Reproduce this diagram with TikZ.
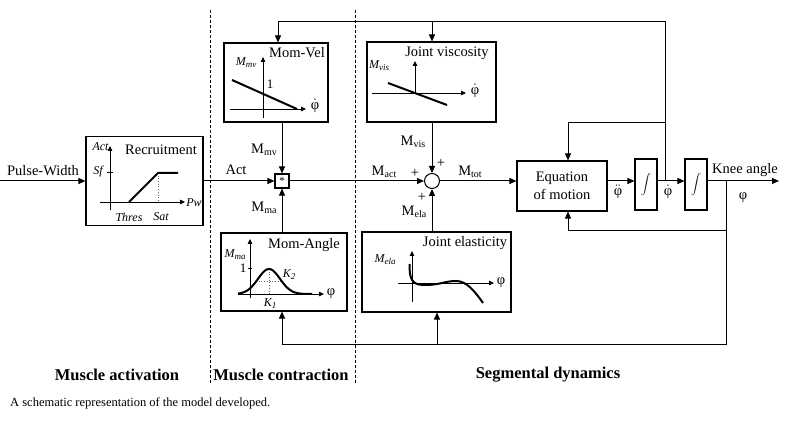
\documentclass[tikz,border=0pt]{standalone}
\usepackage{fontspec}
\setmainfont{Liberation Serif}
\usetikzlibrary{arrows.meta}
\newcommand\lsub[1]{\raisebox{-0.35ex}{\fontsize{10}{10}\selectfont #1}}
\newcommand\isub[1]{\raisebox{-0.35ex}{\fontsize{9}{9}\selectfont\itshape #1}}
\newcommand\phd{$\dot{\hbox{φ}}$}
\newcommand\phdd{$\ddot{\hbox{φ}}$}
\begin{document}
\begin{tikzpicture}[x=1pt,y=-1pt,
  blk/.style={draw, line width=1.1pt, inner sep=0pt},
  intb/.style={blk, minimum width=22pt, minimum height=51pt, font=\fontsize{9.5}{10}\selectfont},
  lab/.style={inner sep=0pt, font=\fontsize{14.5}{17}\selectfont},
  plab/.style={inner sep=0pt, font=\fontsize{12}{14}\selectfont\itshape},
  sec/.style={inner sep=0pt, font=\fontsize{16.5}{19}\selectfont\bfseries},
  arr/.style={line width=1pt, -{Triangle[length=7pt,width=6pt]}},
  ln/.style={line width=1pt},
  axis/.style={line width=0.8pt, -{Triangle[length=5pt,width=4.5pt]}},
  crv/.style={line width=2pt},
  dotl/.style={line width=0.7pt, dotted, black!60},
  sep/.style={line width=0.8pt, dash pattern=on 3pt off 2pt}]
\useasboundingbox[fill=white] (0,0) rectangle (794,427);

% section separators
\draw[sep] (210,10) -- (210,383);
\draw[sep] (355,10) -- (355,383);

% blocks
\node[blk, minimum width=117pt, minimum height=89pt] (rec) at (144.5,181) {};
\node[blk, minimum width=104pt, minimum height=79pt] (mvel) at (276,82.5) {};
\node[blk, minimum width=126pt, minimum height=78pt] (mang) at (284,272) {};
\node[blk, minimum width=129pt, minimum height=80pt] (jvis) at (431.5,82) {};
\node[blk, minimum width=149pt, minimum height=80pt] (jela) at (436.5,272) {};
\node[blk, minimum width=14pt, minimum height=14pt, font=\fontsize{11}{11}\selectfont] (mult) at (282,181) {*};
\node[draw, line width=1pt, circle, minimum size=15pt, inner sep=0pt] (sum) at (432,181) {};
\node[blk, minimum width=90pt, minimum height=50pt, align=center,
      font=\fontsize{14.5}{18.5}\selectfont] (eom) at (562,186) {Equation\\of motion};
\node[intb] (int1) at (646,184.5) {$\displaystyle\int$};
\node[intb] (int2) at (696,184.5) {$\displaystyle\int$};

% coordinates for connectors
\coordinate (pwin) at (0,181);
\coordinate (out) at (779,181);
\coordinate (b1) at (665,181);
\coordinate (b2) at (726,181);
\coordinate (t1) at (665,22);
\coordinate (t2) at (278,22);
\coordinate (t3) at (432,22);
\coordinate (f1) at (665,123);
\coordinate (f2) at (568,123);
\coordinate (g1) at (726,231);
\coordinate (g2) at (568,231);
\coordinate (h1) at (726,344);
\coordinate (h2) at (282,344);
\coordinate (h3) at (437,344);

% forward path
\draw[arr] (pwin) -- (rec.west |- pwin);
\draw[arr] (rec.east |- pwin) -- (mult.west);
\draw[arr] (mvel.south -| mult) -- (mult.north);
\draw[arr] (mang.north -| mult) -- (mult.south);
\draw[arr] (mult.east) -- (sum.west);
\draw[arr] (jvis.south -| sum) -- (sum.north);
\draw[arr] (jela.north -| sum) -- (sum.south);
\draw[arr] (sum.east) -- (eom.west |- sum);
\draw[arr] (eom.east |- sum) -- (int1.west |- sum);
\draw[arr] (int1.east |- sum) -- (int2.west |- sum);
\draw[arr] (int2.east |- sum) -- (out);

% feedback paths
\draw[arr] (b1) -- (t1) -- (t2) -- (mvel.north -| t2);
\draw[arr] (t3) -- (jvis.north -| t3);
\draw[arr] (f1) -- (f2) -- (eom.north -| f2);
\draw[arr] (b2) -- (g1) -- (g2) -- (eom.south -| g2);
\draw[ln] (g1) -- (h1) -- (h2);
\draw[arr] (h2) -- (mang.south -| h2);
\draw[arr] (h3) -- (jela.south -| h3);

% signal labels
\node[lab] (lpw) at (43,171) {Pulse-Width};
\node[lab] (lact) at (236,170) {Act};
\node[lab] (lmv) at (264,150) {M\lsub{mv}};
\node[lab] (lma) at (264,208) {M\lsub{ma}};
\node[lab] (lmact) at (384,172) {M\lsub{act}};
\node[lab] (lp1) at (415,173) {+};
\node[lab] (lp2) at (441,163) {+};
\node[lab] (lp3) at (422,197) {+};
\node[lab] (lmvis) at (413,142) {M\lsub{vis}};
\node[lab] (lmtot) at (470,172) {M\lsub{tot}};
\node[lab] (lmela) at (414,212) {M\lsub{ela}};
\node[lab] (lpdd) at (618,192) {\phdd};
\node[lab] (lpd) at (668,192) {\phd};
\node[lab] (lknee) at (745,170) {Knee angle};
\node[lab] (lphi) at (743,198) {φ};

% Recruitment plot
\node[lab] (trec) at (161,150) {Recruitment};
\draw[axis] (110,210) -- (110,146);
\draw[axis] (100,202) -- (185,202);
\draw[ln] (107,173) -- (113,173);
\draw[dotl] (158,173) -- (158,202);
\draw[crv] (129,202) -- (158,173) -- (178,173);
\node[plab] (ract) at (100.5,147) {Act};
\node[plab] (rsf) at (98,172) {Sf};
\node[plab] (rthr) at (129,217) {Thres};
\node[plab] (rsat) at (161,217) {Sat};
\node[plab] (rpw) at (194,203) {Pw};

% Mom-Vel plot
\node[lab] (tmv) at (297,53) {Mom-Vel};
\node[plab] (pmv) at (246,63) {M\isub{mv}};
\draw[axis] (263,118) -- (263,57);
\draw[axis] (230,109) -- (306,109);
\node[lab] (pmvx) at (315,106) {\phd};
\draw[crv] (232,80) -- (297,109);
\node[inner sep=0pt, font=\fontsize{13}{13}\selectfont] (pmv1) at (270,84) {1};

% Mom-Angle plot
\node[lab] (tma) at (304,245) {Mom-Angle};
\node[plab] (pma) at (235,255) {M\isub{ma}};
\draw[axis] (250,298) -- (250,239);
\draw[axis] (238,294) -- (324,294);
\node[lab] (pmax) at (331,294) {φ};
\draw[ln] (248,269) -- (252,269);
\node[inner sep=0pt, font=\fontsize{13}{13}\selectfont] (pma1) at (243,268) {1};
\draw[dotl] (269,269) -- (269,294);
\draw[dotl] (256,281) -- (282,281);
\draw[crv, domain=238:312, samples=70, smooth] plot (\x, {294-25*exp(-((\x-269)^2)/242)});
\node[plab] (pk2) at (289,275) {K\isub{2}};
\node[plab] (pk1) at (270,304) {K\isub{1}};

% Joint viscosity plot
\node[lab] (tjv) at (447,53) {Joint viscosity};
\node[plab] (pjv) at (379,66) {M\isub{vis}};
\draw[axis] (415,94) -- (415,61);
\draw[axis] (372,93) -- (466,93);
\node[lab] (pjvx) at (475,91) {\phd};
\draw[crv] (388,83) -- (447,105);

% Joint elasticity plot
\node[lab] (tje) at (465,243) {Joint elasticity};
\node[plab] (pje) at (385,260) {M\isub{ela}};
\draw[axis] (412,302) -- (412,251);
\draw[axis] (398,283) -- (494,283);
\node[lab] (pjex) at (501,283) {φ};
\draw[crv] (409.5,264) .. controls (409.5,280) and (412,285) .. (425,285)
  .. controls (440,285) and (445,281) .. (456,281)
  .. controls (466,281) and (474,290) .. (483,303);

% section titles and caption
\node[sec] (s1) at (117,375) {Muscle activation};
\node[sec] (s2) at (281,375) {Muscle contraction};
\node[sec] (s3) at (548,375) {Segmental dynamics};
\node[inner sep=0pt, anchor=west, font=\fontsize{12.5}{15}\selectfont] (cap) at (10,403) {A schematic representation of the model developed.};
\end{tikzpicture}
\end{document}
